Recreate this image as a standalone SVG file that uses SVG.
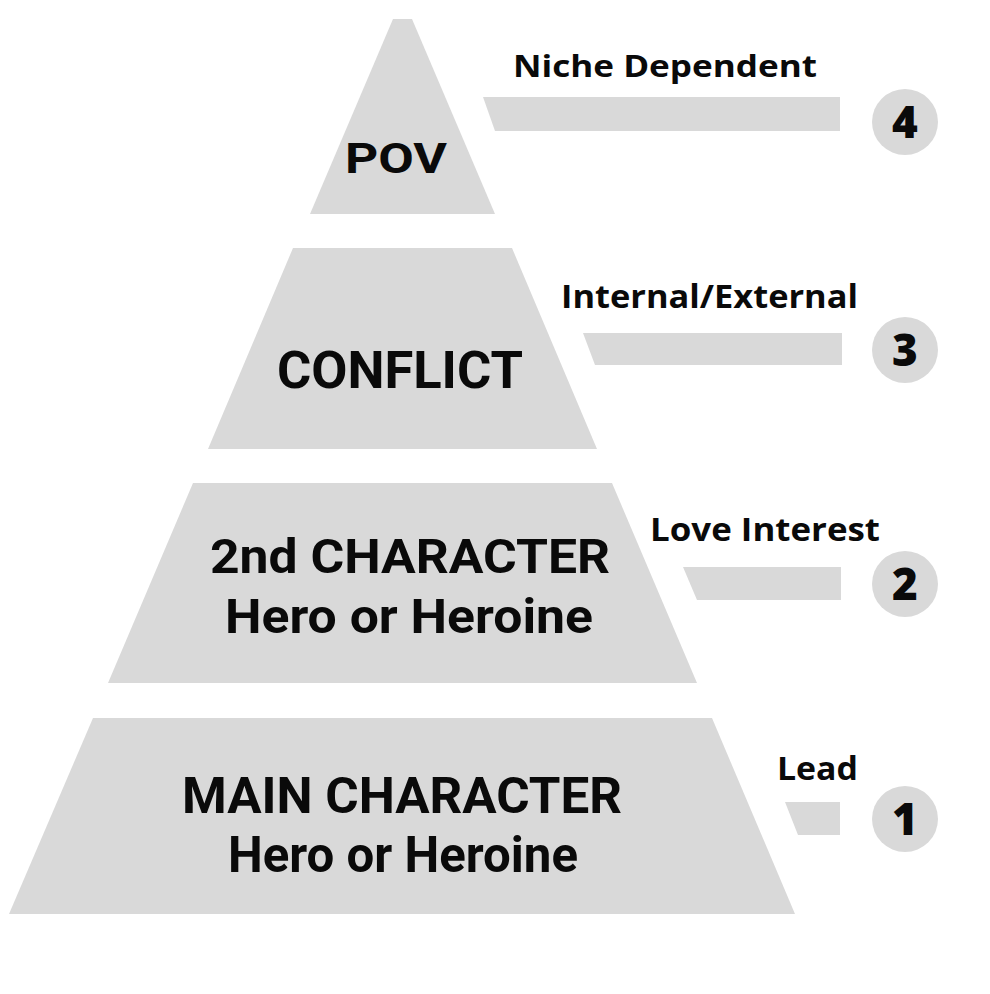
<svg xmlns="http://www.w3.org/2000/svg" width="990" height="994" viewBox="0 0 990 994">
<style>
.tier{fill:#d9d9d9}
.bar{fill:#d9d9d9}
.badge{fill:#d9d9d9}
.big{font-family:Roboto,"Liberation Sans",sans-serif;font-weight:700;fill:#0a0a0a;text-anchor:middle}
.lab{font-family:"Open Sans","Liberation Sans",sans-serif;font-weight:700;fill:#0a0a0a}
.num{font-family:"Open Sans","Liberation Sans",sans-serif;font-weight:800;fill:#0a0a0a;text-anchor:middle;font-size:44px}
</style>
<rect width="990" height="994" fill="#ffffff"/>
<g id="tier-pov">
  <polygon class="tier" points="393,19 412,19 495,214 310,214"/>
  <text class="big" x="396" y="173" font-size="42" textLength="102" lengthAdjust="spacingAndGlyphs">POV</text>
</g>
<g id="tier-conflict">
  <polygon class="tier" points="293,248 512,248 597,449 208,449"/>
  <text class="big" x="400" y="388" font-size="52" textLength="246" lengthAdjust="spacingAndGlyphs">CONFLICT</text>
</g>
<g id="tier-second">
  <polygon class="tier" points="193,483 612,483 697,683 108,683"/>
  <text class="big" x="410" y="573" font-size="48" textLength="400" lengthAdjust="spacingAndGlyphs">2nd CHARACTER</text>
  <text class="big" x="409" y="633" font-size="48" textLength="368" lengthAdjust="spacingAndGlyphs">Hero or Heroine</text>
</g>
<g id="tier-main">
  <polygon class="tier" points="93,718 712,718 795,914 9,914"/>
  <text class="big" x="402" y="813" font-size="50" textLength="440" lengthAdjust="spacingAndGlyphs">MAIN CHARACTER</text>
  <text class="big" x="403" y="872" font-size="50" textLength="350" lengthAdjust="spacingAndGlyphs">Hero or Heroine</text>
</g>
<g id="connectors">
  <polygon class="bar" points="483,97 840,97 840,131 495,131"/>
  <polygon class="bar" points="583,333 842,333 842,365 595,365"/>
  <polygon class="bar" points="683,567 841,567 841,600 697,600"/>
  <polygon class="bar" points="785,802 840,802 840,835 798,835"/>
</g>
<g id="label-4">
  <text class="lab" x="513" y="77" font-size="31" textLength="304" lengthAdjust="spacingAndGlyphs">Niche Dependent</text>
  <circle class="badge" cx="905" cy="122" r="33"/>
  <text class="num" x="905" y="138">4</text>
</g>
<g id="label-3">
  <text class="lab" x="561" y="308" font-size="32" textLength="297" lengthAdjust="spacingAndGlyphs">Internal/External</text>
  <circle class="badge" cx="905" cy="350" r="33"/>
  <text class="num" x="905" y="366">3</text>
</g>
<g id="label-2">
  <text class="lab" x="650" y="541" font-size="32" textLength="230" lengthAdjust="spacingAndGlyphs">Love Interest</text>
  <circle class="badge" cx="905" cy="584" r="33"/>
  <text class="num" x="905" y="600">2</text>
</g>
<g id="label-1">
  <text class="lab" x="777" y="780" font-size="33" textLength="81" lengthAdjust="spacingAndGlyphs">Lead</text>
  <circle class="badge" cx="905" cy="819" r="33"/>
  <text class="num" x="905" y="835">1</text>
</g>
</svg>
